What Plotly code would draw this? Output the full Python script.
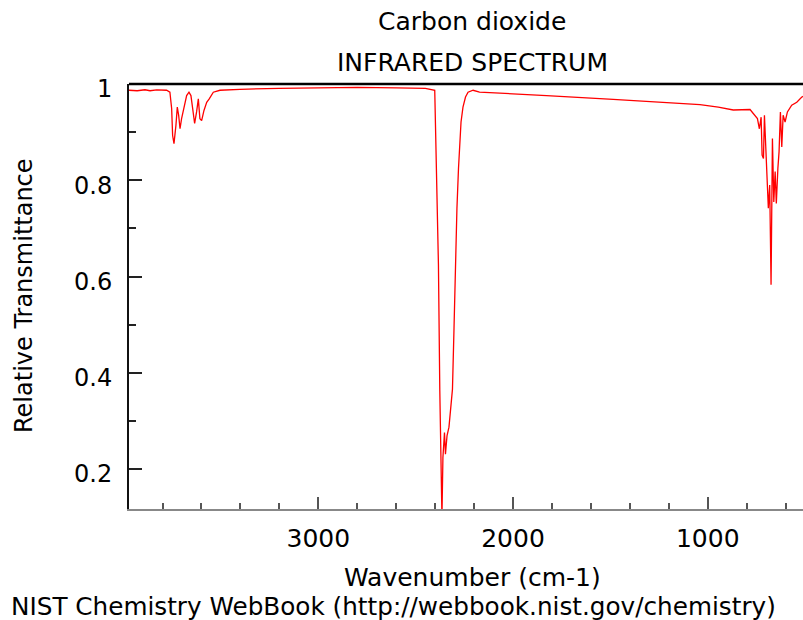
import plotly.graph_objects as go

# Data
wavenumber = [3972, 3930, 3890, 3864, 3830, 3800, 3779, 3762, 3753, 3748, 3741, 3731, 3724, 3717,
              3710, 3702, 3688, 3676, 3664, 3654, 3645, 3635, 3625, 3616, 3608, 3599, 3587, 3573,
              3560, 3539, 3505, 3402, 3200, 3000, 2800, 2600, 2450, 2402, 2399, 2390, 2383, 2376,
              2371, 2366, 2365, 2360, 2352, 2347, 2339, 2329, 2320, 2311, 2303, 2296, 2288, 2280,
              2274, 2267, 2257, 2244, 2231, 2205, 2172, 2068, 1828, 1486, 1142, 1040, 946, 869,
              783, 757, 745, 735, 726, 721, 714, 709, 702, 695, 689, 682, 675, 668, 661, 654, 648,
              640, 634, 627, 620, 613, 603, 591, 569, 543, 517, 505]
transmittance = [0.987, 0.986, 0.988, 0.986, 0.988, 0.987, 0.987, 0.983, 0.949, 0.893, 0.876, 0.914,
                 0.952, 0.935, 0.907, 0.928, 0.956, 0.976, 0.983, 0.976, 0.949, 0.918, 0.942, 0.969,
                 0.928, 0.924, 0.945, 0.962, 0.969, 0.983, 0.987, 0.989, 0.991, 0.992, 0.993, 0.992,
                 0.991, 0.987, 0.928, 0.794, 0.624, 0.362, 0.256, 0.19, 0.10, 0.224, 0.276, 0.231,
                 0.269, 0.287, 0.335, 0.366, 0.493, 0.631, 0.742, 0.825, 0.880, 0.921, 0.952, 0.973,
                 0.983, 0.987, 0.983, 0.981, 0.976, 0.968, 0.960, 0.957, 0.952, 0.946, 0.947, 0.935,
                 0.928, 0.907, 0.931, 0.852, 0.845, 0.935, 0.852, 0.790, 0.742, 0.790, 0.583, 0.887,
                 0.755, 0.818, 0.752, 0.825, 0.859, 0.942, 0.869, 0.935, 0.921, 0.942, 0.956, 0.962,
                 0.973, 0.975]

compound = "Carbon dioxide"
subtitle = "INFRARED SPECTRUM"
x_title = "Wavenumber (cm-1)"
y_title = "Relative Transmittance"
footer = "NIST Chemistry WebBook (http://webbook.nist.gov/chemistry)"

FONT = "DejaVu Sans"
W, H = 803, 620
ML, MR, MT, MB = 129, 0, 84, 111
PW, PH = W - ML - MR, H - MT - MB


def px(x):
    return (x - ML) / PW


def py(y):
    return (H - MB - y) / PH


fig = go.Figure()
fig.add_trace(go.Scatter(x=wavenumber, y=transmittance, mode="lines",
                         line=dict(color="#ff0000", width=1.3), showlegend=False,
                         hoverinfo="skip"))

fig.update_layout(
    width=W, height=H,
    margin=dict(l=ML, r=MR, t=MT, b=MB, pad=0),
    paper_bgcolor="white", plot_bgcolor="white",
    font=dict(family=FONT, size=24, color="black"),
    xaxis=dict(range=[3972, 511], tick0=0, dtick=1000, ticks="inside", ticklen=12,
               tickwidth=2, tickcolor="#555555", showline=True, linecolor="#888888",
               linewidth=2, showgrid=False, zeroline=False, ticklabelstandoff=6,
               tickfont=dict(family=FONT, size=25, color="black"),
               minor=dict(ticks="inside", ticklen=6, tickwidth=2, tickcolor="#555555", dtick=200,
                          showgrid=False)),
    yaxis=dict(range=[0.117, 1.0], tick0=0, dtick=0.2, ticks="inside", ticklen=13,
               tickwidth=2, tickcolor="#222222", showline=True, linecolor="#111111",
               linewidth=2, showgrid=False, zeroline=False, ticklabelstandoff=10,
               ticklabelshift=5,
               tickfont=dict(family=FONT, size=24, color="black"),
               minor=dict(ticks="inside", ticklen=7, tickwidth=2, tickcolor="#222222", dtick=0.1,
                          showgrid=False)),
)

fig.add_shape(type="line", xref="paper", yref="paper", x0=0, x1=1, y0=1, y1=1,
              line=dict(color="black", width=2.5))

ann = [
    dict(text=compound, x=px(472), y=py(22), size=25),
    dict(text=subtitle, x=px(472), y=py(62), size=25),
    dict(text=x_title, x=px(472), y=py(577), size=25),
]
for a in ann:
    fig.add_annotation(text=a["text"], xref="paper", yref="paper", x=a["x"], y=a["y"],
                       xanchor="center", yanchor="middle", showarrow=False,
                       font=dict(family=FONT, size=a["size"], color="black"))
fig.add_annotation(text=footer, xref="paper", yref="paper", x=px(9), y=py(606),
                   xanchor="left", yanchor="middle", showarrow=False,
                   font=dict(family=FONT, size=24.7, color="black"))
fig.add_annotation(text=y_title, xref="paper", yref="paper", x=px(24), y=py(296),
                   xanchor="center", yanchor="middle", textangle=-90, showarrow=False,
                   font=dict(family=FONT, size=24, color="black"))

fig.write_html("out.html", config={"displayModeBar": False},
               post_script="document.body.style.margin='0';")
